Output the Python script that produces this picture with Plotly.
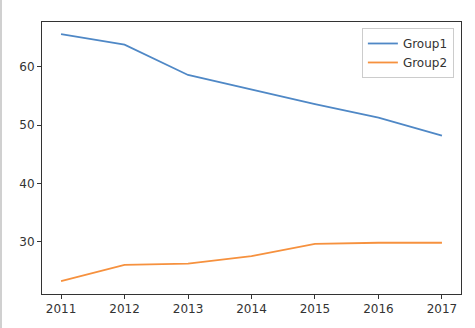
import plotly.graph_objects as go

years = [2011, 2012, 2013, 2014, 2015, 2016, 2017]
group1 = [65.6, 63.8, 58.6, 56.1, 53.6, 51.3, 48.2]
group2 = [23.2, 26.0, 26.2, 27.5, 29.6, 29.8, 29.8]
tick_years = [2011, 2012, 2013, 2014, 2015, 2016, 2017]
tick_y = [30, 40, 50, 60]

W, H = 475, 328
L, R, T, B = 42, 14, 22, 34
pw, ph = W - L - R, H - T - B

fig = go.Figure()
fig.add_trace(go.Scatter(x=years, y=group1, mode="lines", name="Group1",
                         line=dict(color="#4f88c6", width=1.8)))
fig.add_trace(go.Scatter(x=years, y=group2, mode="lines", name="Group2",
                         line=dict(color="#f6913e", width=1.8)))

axis_common = dict(showgrid=False, zeroline=False, showline=True, linecolor="#333333",
                   linewidth=1, mirror=True, ticks="outside", ticklen=4, tickwidth=1,
                   tickcolor="#333333", tickfont=dict(family="DejaVu Sans", size=12, color="#333333"))

fig.update_layout(
    width=W, height=H,
    margin=dict(l=L, r=R, t=T, b=B),
    paper_bgcolor="white", plot_bgcolor="white",
    xaxis=dict(range=[2010.7, 2017.3], tickmode="array", tickvals=tick_years,
               ticktext=[str(y) for y in tick_years], **axis_common),
    yaxis=dict(range=[21.0, 67.7], tickmode="array", tickvals=tick_y,
               ticktext=[str(v) for v in tick_y], **axis_common),
    legend=dict(x=0.983, y=0.978, xanchor="right", yanchor="top",
                bgcolor="rgba(255,255,255,0.8)", bordercolor="#cccccc", borderwidth=1,
                font=dict(family="DejaVu Sans", size=12, color="#333333"),
                itemwidth=30, tracegroupgap=0),
    showlegend=True,
    shapes=[dict(type="line", xref="paper", yref="paper",
                 x0=(1 - L) / pw, x1=(1 - L) / pw, y0=-B / ph, y1=1 + T / ph,
                 line=dict(color="#d0d0d0", width=2))],
)

fig.write_html("out.html")
